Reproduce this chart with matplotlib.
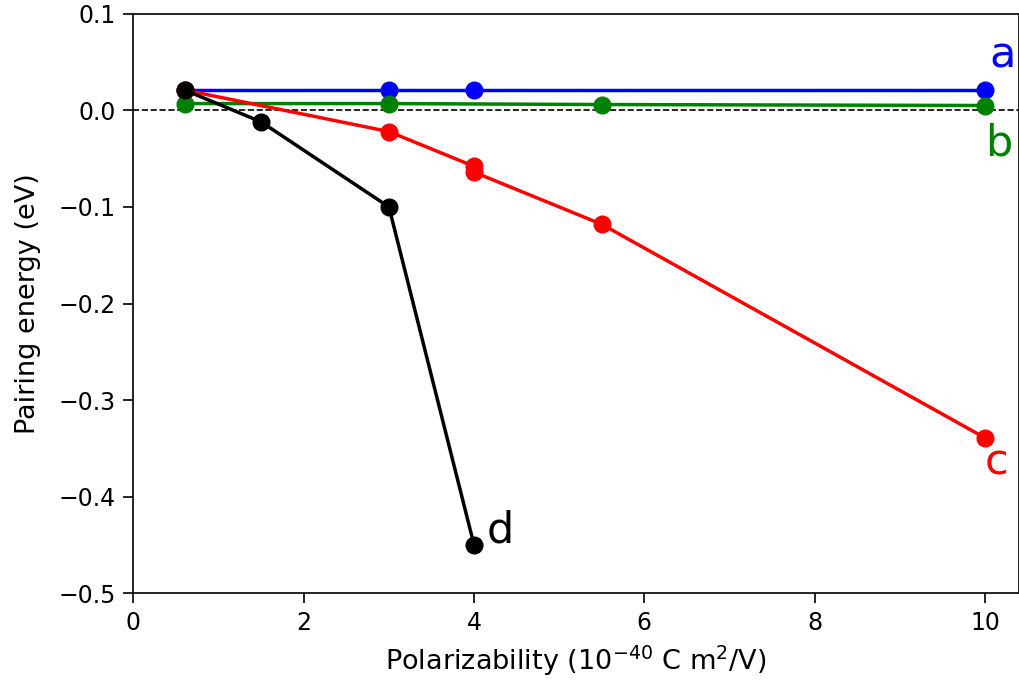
import matplotlib
matplotlib.use("Agg")
import matplotlib.pyplot as plt

# polarizability values and pairing energies for each curve
xa = [0.6, 3, 4, 10]
ya = [0.021, 0.021, 0.021, 0.021]

xb = [0.6, 3, 5.5, 10]
yb = [0.007, 0.007, 0.006, 0.005]

xc = [0.6, 3, 4, 4, 5.5, 10]
yc = [0.021, -0.022, -0.058, -0.064, -0.118, -0.339]

xd = [0.6, 1.5, 3, 4]
yd = [0.021, -0.012, -0.100, -0.450]

plt.rcParams['font.size'] = 17

fig = plt.figure(figsize=(10.19, 6.86), dpi=100)
ax = fig.add_axes([0.131, 0.135, 0.869, 0.845])

ax.axhline(0, color='black', ls='--', lw=1.2)
ax.plot(xa, ya, 'o-', color='blue', lw=2.5, ms=12)
ax.plot(xb, yb, 'o-', color='green', lw=2.5, ms=12)
ax.plot(xc, yc, 'o-', color='red', lw=2.5, ms=12)
ax.plot(xd, yd, 'o-', color='black', lw=2.5, ms=12)

ax.text(10.05, 0.057, 'a', color='blue', fontsize=31, va='center')
ax.text(10.0, -0.034, 'b', color='green', fontsize=31, va='center')
ax.text(10.0, -0.365, 'c', color='red', fontsize=31, va='center')
ax.text(4.15, -0.435, 'd', color='black', fontsize=31, va='center')

ax.set_xlim(0, 10.4)
ax.set_ylim(-0.5, 0.1)
ax.tick_params(length=7, width=1.2, pad=6)
for s in ax.spines.values():
    s.set_linewidth(1.2)
ax.set_xlabel('Polarizability ($10^{-40}$ C m$^2$/V)', fontsize=19.5, labelpad=6)
ax.set_ylabel('Pairing energy (eV)', fontsize=19.5, labelpad=12)

fig.savefig('out.png', dpi=100)
